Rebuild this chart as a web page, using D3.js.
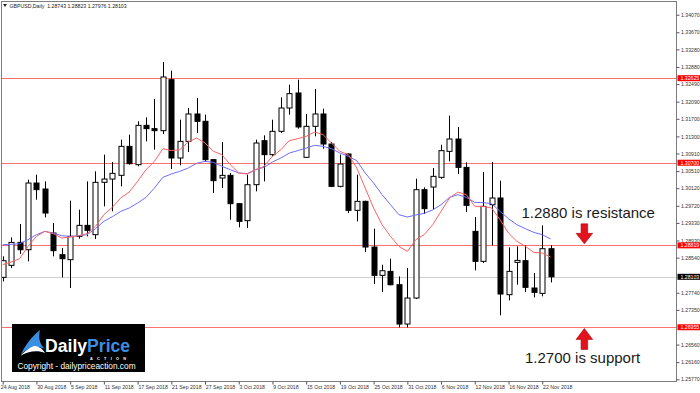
<!DOCTYPE html>
<html lang="en">
<head>
  <meta charset="UTF-8">
  <title>GBPUSD Daily</title>
  <script src="https://d3js.org/d3.v7.min.js"></script>
  <style>
    body { margin: 0; padding: 0; background: #fff; }
    svg { display: block; font-family: 'Liberation Sans', Arial, sans-serif; }
  </style>
</head>
<body>
  <svg id="chart" width="700" height="393"></svg>

  <script>
    // Daily bars, 24 Aug 2018 .. 23 Nov 2018
    const opens = [1.28090, 1.28364, 1.28887, 1.28720, 1.30238, 1.30102, 1.29100, 1.28607, 1.28493, 1.29024,
                   1.29274, 1.29062, 1.30254, 1.30329, 1.30413, 1.31073, 1.30656, 1.31551, 1.31476, 1.31430,
                   1.32591, 1.30808, 1.31187, 1.31810, 1.31643, 1.30770, 1.30352, 1.30413, 1.29768, 1.29381,
                   1.30200, 1.31202, 1.30884, 1.31415, 1.31946, 1.32288, 1.30823, 1.31529, 1.31810, 1.31126,
                   1.30162, 1.30899, 1.29616, 1.29821, 1.28781, 1.28136, 1.28227, 1.27923, 1.27028, 1.27620,
                   1.30087, 1.30147, 1.30367, 1.30959, 1.31240, 1.30595, 1.29138, 1.28455, 1.29745, 1.29897,
                   1.27696, 1.28432, 1.28470, 1.27848, 1.27726, 1.28743];
    const highs = [1.28569, 1.29001, 1.29305, 1.30314, 1.30428, 1.30276, 1.29328, 1.28758, 1.29836, 1.29631,
                   1.30276, 1.30504, 1.30884, 1.30717, 1.31225, 1.31339, 1.31643, 1.31734, 1.32151, 1.32994,
                   1.32796, 1.31680, 1.31946, 1.32174, 1.31794, 1.30785, 1.31172, 1.30466, 1.29783, 1.30428,
                   1.31225, 1.31324, 1.31680, 1.32189, 1.32477, 1.32591, 1.31810, 1.32379, 1.31931, 1.31172,
                   1.30884, 1.30914, 1.30428, 1.29836, 1.29199, 1.28379, 1.28515, 1.28113, 1.28303, 1.30337,
                   1.30140, 1.30580, 1.31111, 1.31772, 1.31514, 1.30709, 1.29464, 1.30489, 1.30717, 1.30292,
                   1.28773, 1.28796, 1.28819, 1.28189, 1.29274, 1.28823];
    const lows = [1.27999, 1.28303, 1.28622, 1.28455, 1.29859, 1.29457, 1.28569, 1.28090, 1.27848, 1.28971,
                  1.29024, 1.28963, 1.29707, 1.29593, 1.30162, 1.30656, 1.30618, 1.31187, 1.30997, 1.31354,
                  1.30557, 1.30641, 1.30944, 1.31377, 1.30717, 1.30011, 1.30125, 1.29403, 1.29229, 1.29214,
                  1.30049, 1.30276, 1.30846, 1.31377, 1.31794, 1.31476, 1.30808, 1.31301, 1.31020, 1.30147,
                  1.30140, 1.29555, 1.29366, 1.28667, 1.27939, 1.27756, 1.27908, 1.26952, 1.26952, 1.27597,
                  1.29533, 1.29624, 1.30337, 1.30732, 1.30443, 1.29578, 1.28250, 1.28417, 1.28819, 1.27225,
                  1.27567, 1.27923, 1.27756, 1.27635, 1.27658, 1.27976];
    const closes = [1.28470, 1.28887, 1.28720, 1.30238, 1.30087, 1.29555, 1.28698, 1.28515, 1.29024, 1.29274,
                    1.29161, 1.30254, 1.30329, 1.30458, 1.31073, 1.30679, 1.31551, 1.31476, 1.31430, 1.32652,
                    1.30808, 1.31187, 1.31810, 1.31643, 1.30770, 1.30292, 1.30413, 1.29768, 1.29366, 1.30200,
                    1.31149, 1.30884, 1.31415, 1.31946, 1.32273, 1.31514, 1.31529, 1.31810, 1.31126, 1.30162,
                    1.30671, 1.29616, 1.29821, 1.28781, 1.28136, 1.28242, 1.27923, 1.27028, 1.27620, 1.30087,
                    1.29654, 1.30390, 1.30975, 1.31240, 1.30595, 1.29730, 1.28455, 1.29707, 1.29897, 1.27711,
                    1.28227, 1.28477, 1.27863, 1.27749, 1.28743, 1.28103];

    // moving averages as drawn (red = fast, blue = slow)
    const maFast = [1.28379, 1.28440, 1.28515, 1.28796, 1.29024, 1.29138, 1.29085, 1.28986, 1.29009, 1.29039,
                    1.29085, 1.29252, 1.29517, 1.29684, 1.29897, 1.30033, 1.30276, 1.30542, 1.30732, 1.31020,
                    1.30975, 1.30997, 1.31172, 1.31263, 1.31149, 1.30959, 1.30884, 1.30656, 1.30466, 1.30443,
                    1.30542, 1.30618, 1.30846, 1.30997, 1.31202, 1.31248, 1.31301, 1.31400, 1.31339, 1.31149,
                    1.30959, 1.30884, 1.30580, 1.30125, 1.29669, 1.29290, 1.29024, 1.28796, 1.28682, 1.28948,
                    1.29062, 1.29290, 1.29593, 1.29897, 1.30033, 1.29973, 1.29707, 1.29707, 1.29669, 1.29403,
                    1.29100, 1.28910, 1.28796, 1.28660, 1.28644, 1.28553];
    const maSlow = [1.28834, 1.28842, 1.28857, 1.28948, 1.29062, 1.29138, 1.29100, 1.29039, 1.29024, 1.29039,
                    1.29062, 1.29199, 1.29366, 1.29472, 1.29593, 1.29669, 1.29783, 1.29912, 1.30125, 1.30367,
                    1.30443, 1.30504, 1.30580, 1.30686, 1.30732, 1.30709, 1.30618, 1.30542, 1.30466, 1.30451,
                    1.30542, 1.30595, 1.30717, 1.30808, 1.30921, 1.30975, 1.31035, 1.31096, 1.31073, 1.31020,
                    1.30921, 1.30846, 1.30747, 1.30466, 1.30238, 1.29973, 1.29745, 1.29517, 1.29464, 1.29510,
                    1.29548, 1.29624, 1.29745, 1.29912, 1.29973, 1.29912, 1.29798, 1.29791, 1.29768, 1.29593,
                    1.29426, 1.29290, 1.29199, 1.29115, 1.29062, 1.28963];

    // axis labels
    const dateTickIdx = [0, 4, 8, 12, 16, 20, 24, 28, 32, 36, 40, 44, 48, 52, 56, 60, 64];
    const dateLabels = ["24 Aug 2018", "30 Aug 2018", "5 Sep 2018", "11 Sep 2018", "17 Sep 2018", "21 Sep 2018",
                        "27 Sep 2018", "3 Oct 2018", "9 Oct 2018", "15 Oct 2018", "19 Oct 2018", "25 Oct 2018",
                        "31 Oct 2018", "6 Nov 2018", "12 Nov 2018", "16 Nov 2018", "22 Nov 2018"];
    const priceTicks = [1.34070, 1.33670, 1.33280, 1.32880, 1.32490, 1.32090, 1.31700, 1.31300, 1.30910, 1.30510,
                        1.30120, 1.29720, 1.29330, 1.28930, 1.28540, 1.27740, 1.27350, 1.26560, 1.26160, 1.25770];

    // horizontal levels
    const levels = [1.32625, 1.30700, 1.28819, 1.26955];
    const bidPrice = 1.28103;
    const resistance = 1.28819, support = 1.26955;

    const svg = d3.select("#chart");
    const plotL = 1.5, plotR = 676.5, plotT = 1.5, plotB = 381.5;

    const x = d3.scaleLinear().domain([0, 65]).range([2.7, 550.65]);
    const y = d3.scaleLinear().domain([1.25770, 1.34070]).range([379.3, 14.7]);

    svg.append("defs").append("clipPath").attr("id", "plot")
      .append("rect").attr("x", plotL).attr("y", plotT)
      .attr("width", plotR - plotL).attr("height", plotB - plotT);

    const plot = svg.append("g").attr("clip-path", "url(#plot)");

    // level lines + bid line
    plot.selectAll(".lvl").data(levels).enter().append("line")
      .attr("x1", plotL).attr("x2", plotR)
      .attr("y1", d => Math.round(y(d)) + 0.5).attr("y2", d => Math.round(y(d)) + 0.5)
      .attr("stroke", "#ff7070").attr("stroke-width", 1.2);
    plot.append("line")
      .attr("x1", plotL).attr("x2", plotR)
      .attr("y1", Math.round(y(bidPrice)) + 0.5).attr("y2", Math.round(y(bidPrice)) + 0.5)
      .attr("stroke", "#cfcfcf").attr("stroke-width", 1);

    // candles
    const bars = d3.range(opens.length).map(i => ({
      i, o: opens[i], h: highs[i], l: lows[i], c: closes[i]
    }));
    const cg = plot.selectAll(".bar").data(bars).enter().append("g");
    cg.append("line")
      .attr("x1", d => Math.round(x(d.i)) + 0.5).attr("x2", d => Math.round(x(d.i)) + 0.5)
      .attr("y1", d => y(d.h)).attr("y2", d => y(d.l))
      .attr("stroke", "#000").attr("stroke-width", 1);
    cg.append("rect")
      .attr("x", d => Math.round(x(d.i)) - 2)
      .attr("y", d => y(Math.max(d.o, d.c)))
      .attr("width", 5)
      .attr("height", d => Math.max(1, Math.abs(y(d.o) - y(d.c))))
      .attr("fill", d => d.c < d.o ? "#000" : "#fff")
      .attr("stroke", "#000").attr("stroke-width", 1);

    // moving averages
    const maLine = d3.line().x((d, i) => x(i)).y(d => y(d));
    plot.append("path").datum(maSlow).attr("d", maLine)
      .attr("fill", "none").attr("stroke", "#6d6dff").attr("stroke-width", 1);
    plot.append("path").datum(maFast).attr("d", maLine)
      .attr("fill", "none").attr("stroke", "#ff6262").attr("stroke-width", 1);

    // frame
    svg.append("rect").attr("x", plotL).attr("y", plotT)
      .attr("width", plotR - plotL).attr("height", plotB - plotT)
      .attr("fill", "none").attr("stroke", "#7d7d7d").attr("stroke-width", 1);

    // price axis
    const yAxis = svg.append("g").attr("transform", `translate(${plotR},0)`)
      .call(d3.axisRight(y).tickValues(priceTicks).tickSize(3).tickPadding(1.5)
        .tickFormat(d3.format(".5f")));
    yAxis.select(".domain").remove();
    yAxis.selectAll(".tick line").attr("stroke", "#555");
    yAxis.selectAll("text").attr("font-size", 5.2).attr("fill", "#333")
      .attr("font-family", "'Liberation Sans', Arial, sans-serif");

    // date axis
    const xAxis = svg.append("g").attr("transform", `translate(0,${plotB})`)
      .call(d3.axisBottom(x).tickValues(dateTickIdx).tickSize(3).tickPadding(1.3)
        .tickFormat((d, i) => dateLabels[i]));
    xAxis.select(".domain").remove();
    xAxis.selectAll(".tick line").attr("stroke", "#555");
    xAxis.selectAll("text").attr("font-size", 5.2).attr("fill", "#333")
      .attr("text-anchor", "start").attr("dx", "0.3")
      .attr("font-family", "'Liberation Sans', Arial, sans-serif");
    xAxis.select(".tick text").attr("dx", "-2.4");

    // highlighted price labels on the axis
    const tags = levels.map(v => ({ v, bg: "#ff0000" })).concat([{ v: bidPrice, bg: "#000" }]);
    const tg = svg.selectAll(".tag").data(tags).enter().append("g")
      .attr("transform", d => `translate(${plotR + 1},${y(d.v)})`);
    tg.append("rect").attr("x", 0).attr("y", -3).attr("width", 23).attr("height", 6)
      .attr("fill", d => d.bg);
    tg.append("text").attr("x", 3).attr("dy", "0.36em")
      .attr("font-size", 5.2).attr("fill", "#fff")
      .text(d => d3.format(".5f")(d.v));

    // title line
    svg.append("path").attr("d", "M3,4 L7,4 L5,7 Z").attr("fill", "#222");
    svg.append("text").attr("x", 9.5).attr("y", 7.6).attr("font-size", 5.2).attr("fill", "#222")
      .attr("xml:space", "preserve")
      .text("GBPUSD,Daily  1.28743 1.28823 1.27976 1.28103");

    // annotations
    const arrowX = x(69);
    const downTip = y(resistance) - 1.5, upTip = y(support) + 1.2;
    svg.append("path")
      .attr("d", `M${arrowX - 3.3},${downTip - 20} h6.6 v9.5 h5 L${arrowX},${downTip} L${arrowX - 8.3},${downTip - 10.5} h5 Z`)
      .attr("fill", "#e3121b").attr("stroke", "#9c0a0f").attr("stroke-width", 0.6);
    svg.append("path")
      .attr("d", `M${arrowX - 3.3},${upTip + 21} h6.6 v-10 h5 L${arrowX},${upTip} L${arrowX - 8.3},${upTip + 11} h5 Z`)
      .attr("fill", "#e3121b").attr("stroke", "#9c0a0f").attr("stroke-width", 0.6);

    svg.append("text").attr("x", 521.5).attr("y", 217.5)
      .attr("font-size", 15).attr("fill", "#1a1a1a")
      .text("1.2880 is resistance");
    svg.append("text").attr("x", 525).attr("y", 362.5)
      .attr("font-size", 15).attr("fill", "#1a1a1a")
      .text("1.2700 is support");

    // logo box
    const logo = svg.append("g").attr("transform", "translate(12,324)");
    logo.append("rect").attr("width", 133).attr("height", 48).attr("fill", "#000");
    logo.append("path")
      .attr("d", "M9,30 C13,22 20,12 28,6 C26,14 28,21 33,25 C25,21 16,24 9,30 Z")
      .attr("fill", "#3b8fe3");
    logo.append("path")
      .attr("d", "M8,32 C16,27 26,26 33,29 C30,24 26,22 22,22 C17,24 12,28 8,32 Z")
      .attr("fill", "#ffffff");
    const brand = logo.append("text").attr("x", 33).attr("y", 27.5)
      .attr("font-size", 17.6).attr("font-weight", "bold");
    brand.append("tspan").attr("fill", "#fff").text("Daily");
    brand.append("tspan").attr("fill", "#3b8fe3").text("Price");
    logo.append("text").attr("x", 78).attr("y", 35.6)
      .attr("font-size", 3.8).attr("font-weight", "bold").attr("fill", "#fff")
      .attr("letter-spacing", 4.3).text("ACTION");
    logo.append("text").attr("x", 5.5).attr("y", 45)
      .attr("font-size", 8.3).attr("fill", "#fff")
      .text("Copyright - dailypriceaction.com");
  </script>
</body>
</html>
